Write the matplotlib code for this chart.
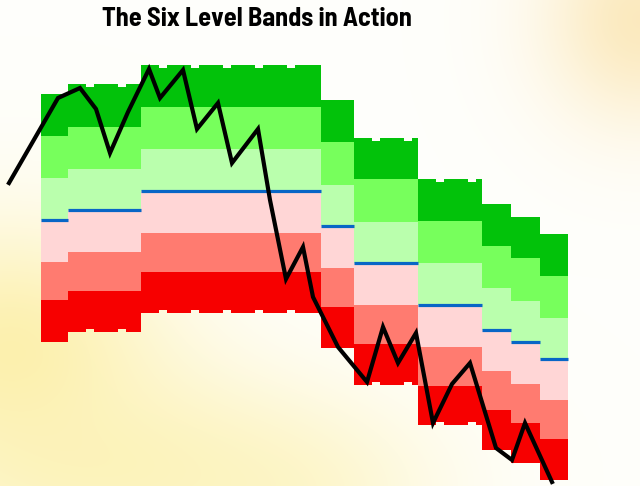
import numpy as np
import matplotlib
matplotlib.use("Agg")
import matplotlib.pyplot as plt
from matplotlib.patches import Rectangle
from matplotlib import font_manager

H, W = 486, 640

# ---- data (time in px-like units, price = chart height - screen y) ----
seg_start = [41, 68, 141, 321, 354, 418, 482, 511, 540]
seg_end   = [68, 141, 321, 354, 418, 482, 511, 540, 568]
# band edges from top of band 1 down to bottom of band 6 (screen y)
seg_edges_y = [
    [94, 136, 178, 220, 262, 300, 342],
    [84, 127, 169, 210, 252, 291, 332],
    [65, 107, 149, 191, 233, 272, 313],
    [100, 142, 185, 226, 268, 307, 348],
    [138, 179, 222, 263, 305, 344, 385],
    [179, 221, 263, 305, 347, 386, 425],
    [204, 246, 288, 330, 371, 410, 450],
    [217, 258, 301, 342, 384, 423, 463],
    [234, 276, 318, 359, 400, 439, 480],
]
price_t = [9, 58, 80, 96, 110, 128, 149, 160, 183, 197, 218, 232, 258, 270, 286,
           303, 313, 338, 367, 383, 398, 416, 433, 452, 470, 496, 512, 525, 552]
price_y = [183, 98, 88, 109, 153, 112, 69, 98, 70, 129, 103, 163, 129, 200, 279,
           247, 297, 347, 382, 327, 363, 333, 423, 384, 363, 448, 460, 423, 482]
band_colors = ["#02c20a", "#77ff5c", "#baffad", "#ffd6d6", "#ff7b70", "#f70000"]
title = "The Six Level Bands in Action"

to_price = lambda ys: [H - y for y in ys]

fig = plt.figure(figsize=(6.4, 4.86), dpi=100)
ax = fig.add_axes([0, 0, 1, 1])
ax.set_xlim(0, W)
ax.set_ylim(0, H)
ax.axis("off")

# ---- background glow ----
yy, xx = np.mgrid[0:H, 0:W].astype(float)
img = np.ones((H, W, 3)) * np.array([1.0, 0.998, 0.985])
for cx, cy, sx, sy, col, w in [
    (10, 350, 110, 90, (252, 236, 150), 0.75),
    (120, 470, 170, 75, (252, 240, 170), 0.7),
    (280, 500, 100, 60, (252, 242, 180), 0.5),
    (640, 20, 70, 75, (250, 225, 165), 0.7),
]:
    g = (w * np.exp(-(((xx - cx) / sx) ** 2 + ((yy - cy) / sy) ** 2) / 2))[..., None]
    img = img * (1 - g) + (np.array(col) / 255.0) * g
ax.imshow(img, extent=[0, W, 0, H], origin="upper", aspect="auto", zorder=0)

def bg_at(x, y):
    return img[int(min(max(y, 0), H - 1)), int(min(max(x, 0), W - 1))]

# ---- bands ----
for x0, x1, ey in zip(seg_start, seg_end, seg_edges_y):
    ep = to_price(ey)
    for i, col in enumerate(band_colors):
        ax.add_patch(Rectangle((x0, ep[i + 1]), x1 - x0, ep[i] - ep[i + 1],
                               facecolor=col, edgecolor="none", zorder=2))
    ax.plot([x0, x1], [ep[3], ep[3]], color="#0866c6", lw=2.3,
            solid_capstyle="butt", zorder=3)
    # small notches along the outer edges (picture artifact)
    if x1 - x0 > 50:
        nx = x0 + 18
        while nx < x1 - 10:
            for yedge, sign in ((ey[0], 1), (ey[6], -1)):
                ypos = H - yedge - (3 if sign > 0 else 0)
                ax.add_patch(Rectangle((nx, ypos), 8, 3,
                                       facecolor=bg_at(nx, yedge),
                                       edgecolor="none", zorder=2.5))
            nx += 32

# ---- price line ----
ax.plot(price_t, to_price(price_y), color="black", lw=3.0,
        solid_joinstyle="miter", zorder=4)

# ---- title: prefer a semi-condensed bold face, fit to the reference width ----
fam = ["Open Sans", "DejaVu Sans"]
cands = []
for f in font_manager.fontManager.ttflist:
    n = f.name.lower()
    if f.weight in (700, "bold") and ("narrow" in n or "condensed" in n):
        rank = 0 if "semi" in n else 1
        cands.append((rank, f.name))
if cands:
    cands.sort()
    fam = [cands[0][1], "DejaVu Sans"]
t = fig.text(257 / W, 1 - 19 / H, title, ha="center", va="center",
             fontsize=20, fontweight="bold", family=fam)
fig.canvas.draw()
wpx = t.get_window_extent().width
if wpx > 0:
    t.set_fontsize(min(22, 20 * 310 / wpx))

fig.savefig("out.png", dpi=100)
